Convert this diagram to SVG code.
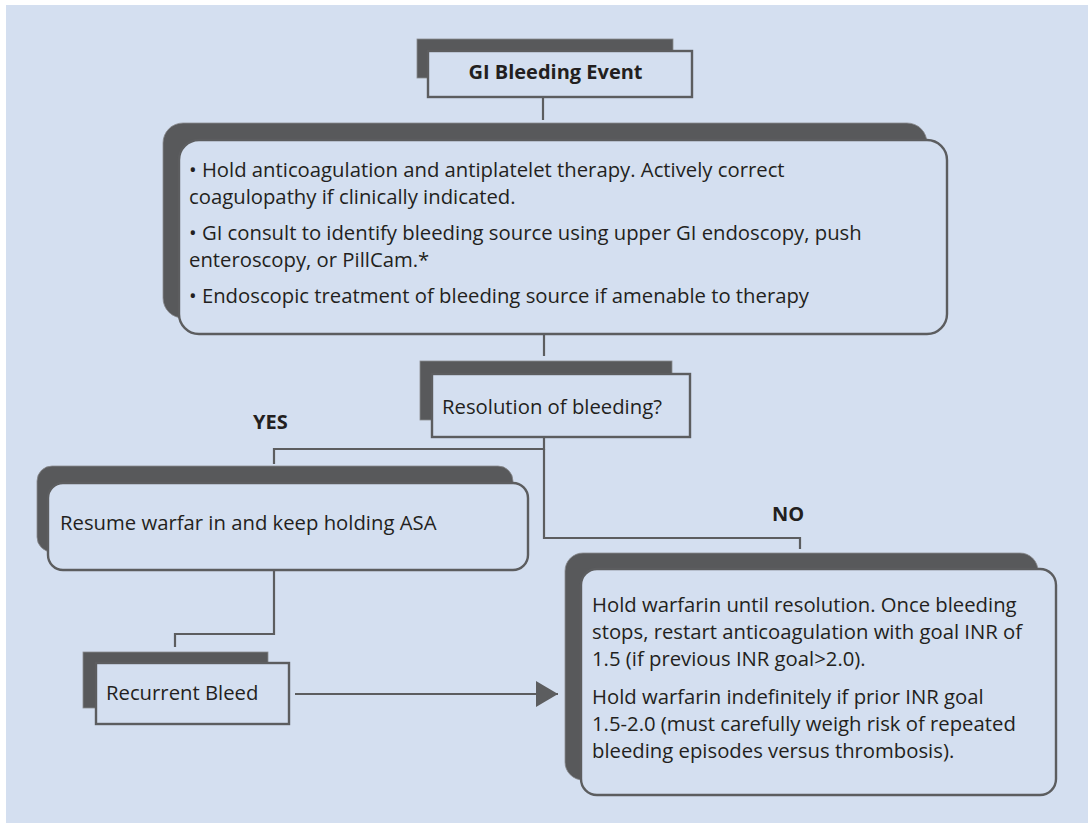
<svg xmlns="http://www.w3.org/2000/svg" width="1088" height="823" viewBox="0 0 1088 823">
  <defs>
    <style>
      .bg { fill: #d4dff0; }
      .shadow { fill: #58595b; stroke: #8a8c8f; stroke-width: 0.8; }
      .box { fill: #d4dff0; stroke: #5c5d5f; stroke-width: 2.4; }
      .wire { fill: none; stroke: #5c5d5f; stroke-width: 2.2; }
      .txt { font-family: "Open Sans", "Liberation Sans", sans-serif; font-size: 20.3px; fill: #231f20; }
      .bold { font-weight: bold; font-size: 20px; }
    </style>
    <marker id="arrowhead" markerUnits="userSpaceOnUse" markerWidth="24" markerHeight="28" refX="22" refY="13" orient="auto">
      <path d="M0,0 L22,13 L0,26 Z" fill="#5c5d5f"/>
    </marker>
  </defs>

  <!-- page background -->
  <rect class="bg" x="6" y="5" width="1082" height="818"/>

  <!-- connectors -->
  <g id="connectors">
    <path class="wire" d="M543,97 V120"/>
    <path class="wire" d="M544,334 V356"/>
    <path class="wire" d="M544,437 V449 H274 V464"/>
    <path class="wire" d="M544,449 V538 H800 V549"/>
    <path class="wire" d="M274,570 V634 H175 V647"/>
    <path class="wire" d="M295,694 H558" marker-end="url(#arrowhead)"/>
  </g>

  <!-- start event -->
  <g id="node-gi-bleeding-event">
    <rect class="shadow" x="417" y="39" width="256" height="39"/>
    <rect class="box" x="428" y="51" width="264" height="46"/>
    <text class="txt bold" x="555.5" y="79" text-anchor="middle">GI Bleeding Event</text>
  </g>

  <!-- initial management -->
  <g id="node-initial-management">
    <rect class="shadow" x="163" y="123" width="764" height="195" rx="20"/>
    <rect class="box" x="179" y="140" width="768" height="194" rx="20"/>
    <text class="txt" x="189" y="177">• Hold anticoagulation and antiplatelet therapy. Actively correct</text>
    <text class="txt" x="189" y="203.5">coagulopathy if clinically indicated.</text>
    <text class="txt" x="189" y="240">• GI consult to identify bleeding source using upper GI endoscopy, push</text>
    <text class="txt" x="189" y="266.5">enteroscopy, or PillCam.*</text>
    <text class="txt" x="189" y="303">• Endoscopic treatment of bleeding source if amenable to therapy</text>
  </g>

  <!-- decision -->
  <g id="node-resolution">
    <rect class="shadow" x="420" y="361" width="252" height="59"/>
    <rect class="box" x="432" y="374" width="258" height="63"/>
    <text class="txt" x="442" y="414">Resolution of bleeding?</text>
  </g>

  <g id="label-yes">
    <text class="txt bold" x="253" y="429">YES</text>
  </g>
  <g id="label-no">
    <text class="txt bold" x="772" y="521">NO</text>
  </g>

  <!-- yes branch -->
  <g id="node-resume">
    <rect class="shadow" x="37" y="466" width="476" height="86" rx="15"/>
    <rect class="box" x="48" y="483" width="480" height="87" rx="15"/>
    <text class="txt" x="60" y="530">Resume warfar in and keep holding ASA</text>
  </g>

  <g id="node-recurrent-bleed">
    <rect class="shadow" x="83" y="652" width="185" height="56"/>
    <rect class="box" x="96" y="663" width="193" height="61"/>
    <text class="txt" x="106" y="700">Recurrent Bleed</text>
  </g>

  <!-- no branch -->
  <g id="node-hold-warfarin">
    <rect class="shadow" x="565" y="553" width="473" height="227" rx="18"/>
    <rect class="box" x="581" y="569" width="475" height="226" rx="16"/>
    <text class="txt" x="592" y="612">Hold warfarin until resolution. Once bleeding</text>
    <text class="txt" x="592" y="639">stops, restart anticoagulation with goal INR of</text>
    <text class="txt" x="592" y="666">1.5 (if previous INR goal&gt;2.0).</text>
    <text class="txt" x="592" y="704">Hold warfarin indefinitely if prior INR goal</text>
    <text class="txt" x="592" y="731">1.5-2.0 (must carefully weigh risk of repeated</text>
    <text class="txt" x="592" y="758">bleeding episodes versus thrombosis).</text>
  </g>
</svg>
